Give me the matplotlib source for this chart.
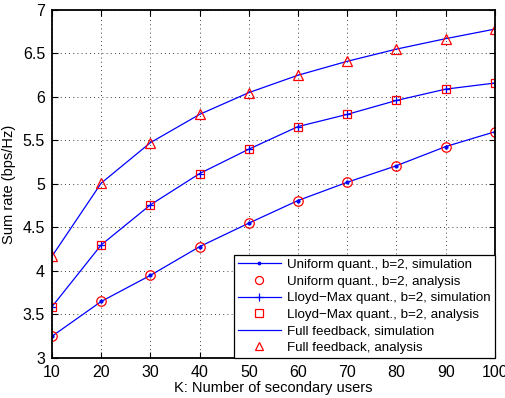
import numpy as np
import matplotlib.pyplot as plt

plt.rcParams['font.family'] = ['Liberation Sans', 'DejaVu Sans']

# number of secondary users
K = [10, 20, 30, 40, 50, 60, 70, 80, 90, 100]

# sum rate (bps/Hz)
uniform_rate = [3.25, 3.65, 3.95, 4.28, 4.55, 4.81, 5.02, 5.21, 5.43, 5.60]
lloyd_rate = [3.59, 4.30, 4.76, 5.12, 5.40, 5.66, 5.80, 5.96, 6.09, 6.16]
full_rate = [4.17, 5.01, 5.475, 5.80, 6.05, 6.25, 6.41, 6.55, 6.67, 6.78]

fig = plt.figure(figsize=(5.05, 3.98), dpi=100)
ax = fig.add_axes([0.103, 0.1005, 0.877, 0.8745])

ax.plot(K, uniform_rate, 'b.-', lw=0.9, ms=4, label='Uniform quant., b=2, simulation')
ax.plot(K, uniform_rate, 'ro', mfc='none', ms=6.8, mew=0.9, label='Uniform quant., b=2, analysis')
ax.plot(K, lloyd_rate, 'b+-', lw=0.9, ms=6, mew=0.9, label='Lloyd\u2212Max quant., b=2, simulation')
ax.plot(K, lloyd_rate, 'rs', mfc='none', ms=6, mew=0.9, label='Lloyd\u2212Max quant., b=2, analysis')
ax.plot(K, full_rate, 'b-', lw=0.9, label='Full feedback, simulation')
ax.plot(K, full_rate, 'r^', mfc='none', ms=7.5, mew=0.9, label='Full feedback, analysis')

ax.set_xlim(10, 100)
ax.set_ylim(3, 7)
ax.set_xticks(np.arange(10, 101, 10))
ax.set_yticks(np.arange(3, 7.01, 0.5))
ax.set_yticklabels(['3', '3.5', '4', '4.5', '5', '5.5', '6', '6.5', '7'])
ax.grid(True, color='black', linestyle=(0, (1, 4)), linewidth=0.6)
ax.tick_params(direction='in', top=True, right=True, labelsize=11.5, length=4, pad=5)
for s in ax.spines.values():
    s.set_linewidth(1.3)

ax.set_xlabel('K: Number of secondary users', fontsize=10.5, labelpad=1)
ax.set_ylabel('Sum rate (bps/Hz)', fontsize=10.5, labelpad=5)

leg = ax.legend(loc='lower right', fontsize=9.6, fancybox=False, edgecolor='black',
                framealpha=1, handlelength=3.2, borderaxespad=0, labelspacing=0.32,
                borderpad=0.3, handletextpad=0.5, markerscale=0.85)
leg.get_frame().set_linewidth(0.9)

fig.savefig('out.png', dpi=100)
